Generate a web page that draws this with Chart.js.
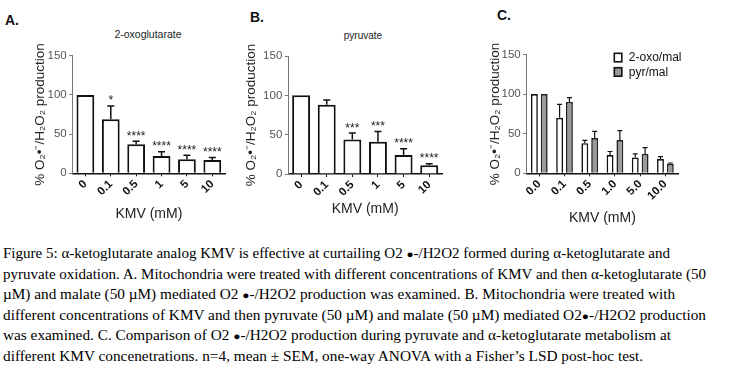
<!DOCTYPE html>
<html><head><meta charset="utf-8">
<script src="https://cdn.jsdelivr.net/npm/chart.js@4.4.0/dist/chart.umd.min.js"></script>
<style>
html,body{margin:0;padding:0;background:#fff;width:732px;height:371px;overflow:hidden;}
canvas{position:absolute;top:0;}
.lbl{position:absolute;font:bold 14px "Liberation Sans",Arial,sans-serif;line-height:14px;color:#111;}
.ttl{position:absolute;font:10.5px "Liberation Sans",Arial,sans-serif;color:#222;text-align:center;width:120px;line-height:12px;}
#cap{position:absolute;left:3px;top:244.3px;font:14px "Liberation Serif","Times New Roman",serif;line-height:20.5px;color:#000;white-space:nowrap;}
#cap span.l{display:inline-block;transform-origin:0 0;}
.dot{font-size:11px;}
</style></head><body>
<div class="lbl" style="left:5px;top:13px">A.</div>
<div class="lbl" style="left:250px;top:10px">B.</div>
<div class="lbl" style="left:497px;top:8px">C.</div>
<div class="ttl" style="left:88px;top:27.5px">2-oxoglutarate</div>
<div class="ttl" style="left:303px;top:30px;font-size:10px">pyruvate</div>
<canvas id="cA" width="240" height="232" style="left:0"></canvas>
<canvas id="cB" width="230" height="232" style="left:230px"></canvas>
<canvas id="cC" width="272" height="232" style="left:460px"></canvas>
<div id="cap">
<span class="l">Figure 5: α-ketoglutarate analog KMV is effective at curtailing O2 <span class="dot">●</span>-/H2O2 formed during α-ketoglutarate and</span><br>
<span class="l">pyruvate oxidation. A. Mitochondria were treated with different concentrations of KMV and then α-ketoglutarate (50</span><br>
<span class="l">µM) and malate (50 µM) mediated O2 <span class="dot">●</span>-/H2O2 production was examined. B. Mitochondria were treated with</span><br>
<span class="l">different concentrations of KMV and then pyruvate (50 µM) and malate (50 µM) mediated O2<span class="dot">●</span>-/H2O2 production</span><br>
<span class="l">was examined. C. Comparison of O2 <span class="dot">●</span>-/H2O2 production during pyruvate and α-ketoglutarate metabolism at</span><br>
<span class="l">different KMV concenetrations. n=4, mean ± SEM, one-way ANOVA with a Fisher’s LSD post-hoc test.</span>
</div>
<script>
// ---- data ----
const kmvLabels = ['0','0.1','0.5','1','5','10'];
const kmvLabelsC = ['0.0','0.1','0.5','1.0','5.0','10.0'];
const oxoMean = [100, 69, 37, 22, 18, 17];
const oxoSem  = [0, 17, 4, 5.5, 5, 3];
const oxoStars = ['', '*', '****', '****', '****', '****'];
const pyrMean = [100, 88, 44, 41, 24, 11];
const pyrSem  = [0, 6, 8, 13, 8, 2];
const pyrStars = ['', '', '***', '***', '****', '****'];
const cmpOxoMean = [100, 70, 38, 23, 20, 18];
const cmpOxoSem  = [0, 17, 3.5, 4.5, 4.5, 3];
const cmpPyrMean = [100, 90, 44.5, 42, 24.5, 12];
const cmpPyrSem  = [0, 5.5, 8.5, 12, 8, 1];
const seriesNames = ['2-oxo/mal', 'pyr/mal'];
const yTitle = '% O₂•⁻/H₂O₂ production';
const xTitle = 'KMV (mM)';

Chart.defaults.font.family = '"Liberation Sans", Arial, sans-serif';
Chart.defaults.animation = false;

const errPlugin = {
  id: 'err',
  afterDatasetsDraw(chart, args, o) {
    const ctx = chart.ctx, y = chart.scales.y;
    chart.data.datasets.forEach((ds, di) => {
      const meta = chart.getDatasetMeta(di);
      meta.data.forEach((bar, i) => {
        const sem = ds.sem ? ds.sem[i] : 0;
        const top = y.getPixelForValue(ds.data[i] + sem);
        ctx.save();
        ctx.strokeStyle = '#111'; ctx.lineWidth = o.lw;
        if (sem > 0) {
          ctx.beginPath();
          ctx.moveTo(bar.x, bar.y); ctx.lineTo(bar.x, top);
          ctx.moveTo(bar.x - o.cap / 2, top); ctx.lineTo(bar.x + o.cap / 2, top);
          ctx.stroke();
        }
        if (ds.stars && ds.stars[i]) {
          ctx.fillStyle = '#222';
          ctx.font = '12px "Liberation Sans", Arial, sans-serif';
          ctx.textAlign = 'center'; ctx.textBaseline = 'alphabetic';
          ctx.fillText(ds.stars[i], bar.x, top - 1.5);
        }
        ctx.restore();
      });
    });
  }
};

const legendPlugin = {
  id: 'boxLegend',
  afterDraw(chart, args, o) {
    if (!o.show) return;
    const ctx = chart.ctx;
    chart.data.datasets.forEach((ds, i) => {
      const bx = o.x, by = o.y + i * o.step;
      ctx.save();
      ctx.fillStyle = ds.backgroundColor;
      ctx.fillRect(bx, by, 7.5, 8.5);
      ctx.strokeStyle = '#111'; ctx.lineWidth = 1.6;
      ctx.strokeRect(bx, by, 7.5, 8.5);
      ctx.fillStyle = '#111';
      ctx.font = '12px "Liberation Sans", Arial, sans-serif';
      ctx.textBaseline = 'middle'; ctx.textAlign = 'left';
      ctx.fillText(ds.label, bx + 14.5, by + 4.5);
      ctx.restore();
    });
  }
};

function makeChart(id, labels, datasets, g) {
  return new Chart(document.getElementById(id), {
    type: 'bar',
    data: { labels, datasets },
    plugins: [errPlugin, legendPlugin],
    options: {
      responsive: false,
      layout: { padding: { top: g.top, left: 0, right: g.right, bottom: 0 } },
      plugins: {
        legend: { display: false }, tooltip: { enabled: false },
        err: { lw: g.lw, cap: g.cap },
        boxLegend: g.legend || { show: false }
      },
      datasets: { bar: { categoryPercentage: g.catPct, barPercentage: g.barPct } },
      scales: {
        x: {
          grid: { display: true, drawOnChartArea: false, drawTicks: true, tickLength: 3, color: '#111', lineWidth: 1, offset: false },
          border: { display: true, color: '#111', width: 1.5 },
          ticks: { autoSkip: false, maxRotation: 45, minRotation: 45, padding: 1, color: '#111',
                   font: { size: 11.5, weight: 'bold' } },
          title: { display: true, text: xTitle, color: '#222', font: { size: 14 }, padding: { top: 0, bottom: g.xtb } },
          afterFit(s) { s.height = g.xh; s.paddingLeft = 0; s.paddingRight = 0; }
        },
        y: {
          min: 0, max: 150,
          ticks: { stepSize: 50, color: '#555', padding: 2.5, font: { size: 11.5 } },
          grid: { display: true, drawOnChartArea: false, drawTicks: true, tickLength: 3.5, color: '#777' },
          border: { display: true, color: '#777', width: 1 },
          title: { display: true, text: yTitle, color: '#222', font: { size: 13.5 }, padding: { top: g.ytp, bottom: 0 } },
          afterFit(s) { s.width = g.yw; s.paddingTop = 0; s.paddingBottom = 0; }
        }
      }
    }
  });
}

makeChart('cA', kmvLabels, [
  { label: seriesNames[0], data: oxoMean, sem: oxoSem, stars: oxoStars, backgroundColor: '#fff', borderColor: '#111', borderWidth: 2 }
], { top: 55.7, right: 15, yw: 72.7, xh: 58.7, ytp: 31.9, xtb: 9.6, catPct: 1, barPct: 0.7, lw: 1.5, cap: 7 });

makeChart('cB', kmvLabels, [
  { label: 'pyruvate', data: pyrMean, sem: pyrSem, stars: pyrStars, backgroundColor: '#fff', borderColor: '#111', borderWidth: 2 }
], { top: 56, right: 18, yw: 58.3, xh: 58, ytp: 12.9, xtb: 14.6, catPct: 1, barPct: 0.7, lw: 1.5, cap: 7 });

makeChart('cC', kmvLabelsC, [
  { label: seriesNames[0], data: cmpOxoMean, sem: cmpOxoSem, backgroundColor: '#fff', borderColor: '#111', borderWidth: 1.6 },
  { label: seriesNames[1], data: cmpPyrMean, sem: cmpPyrSem, backgroundColor: '#999', borderColor: '#222', borderWidth: 1.6 }
], { top: 54.5, right: 54, yw: 66.7, xh: 58.7, ytp: 26.9, xtb: 5.6, catPct: 0.78, barPct: 0.7, lw: 1.2, cap: 5,
     legend: { show: true, x: 154.3, y: 53.3, step: 14.4 } });

// caption line widths to match the reference
const capTargets = [667, 703, 672, 703, 668, 640];
document.querySelectorAll('#cap span.l').forEach((s, i) => {
  const w = s.getBoundingClientRect().width;
  s.style.transform = 'scaleX(' + (capTargets[i] / w).toFixed(4) + ')';
});
</script>
</body></html>
